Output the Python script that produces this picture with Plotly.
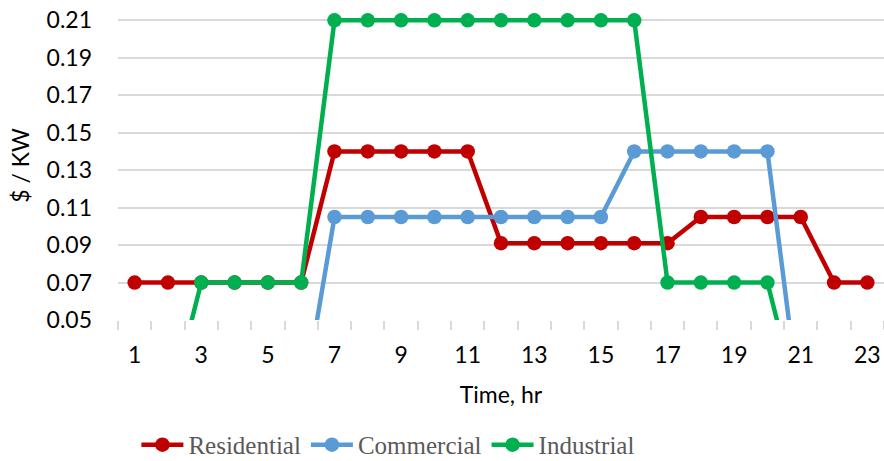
import plotly.graph_objects as go

hours = list(range(1, 24))
residential = [0.07, 0.07, 0.07, 0.07, 0.07, 0.07,
               0.14, 0.14, 0.14, 0.14, 0.14,
               0.091, 0.091, 0.091, 0.091, 0.091, 0.091,
               0.105, 0.105, 0.105, 0.105,
               0.07, 0.07]
commercial = [0, 0, 0, 0, 0, 0,
              0.105, 0.105, 0.105, 0.105, 0.105, 0.105, 0.105, 0.105, 0.105,
              0.14, 0.14, 0.14, 0.14, 0.14,
              0, 0, 0]
industrial = [0, 0,
              0.07, 0.07, 0.07, 0.07,
              0.21, 0.21, 0.21, 0.21, 0.21, 0.21, 0.21, 0.21, 0.21, 0.21,
              0.07, 0.07, 0.07, 0.07,
              0, 0, 0]
x_ticks = list(range(1, 24, 2))
y_ticks = [0.05, 0.07, 0.09, 0.11, 0.13, 0.15, 0.17, 0.19, 0.21]

series = [("Residential", residential, "#C00000"),
          ("Commercial", commercial, "#5B9BD5"),
          ("Industrial", industrial, "#00B050")]

fig = go.Figure()
for name, vals, col in series:
    fig.add_trace(go.Scatter(
        x=hours, y=vals, name=name, mode="lines+markers",
        line=dict(color=col, width=4.5),
        marker=dict(color=col, size=14.5),
        cliponaxis=True,
    ))

axis_font = dict(family="Lato, Carlito, sans-serif", size=23, color="#000000")

fig.update_layout(
    width=884, height=461,
    margin=dict(l=118, r=0, t=10.625, b=141, autoexpand=False),
    paper_bgcolor="white", plot_bgcolor="white",
    showlegend=True,
    legend=dict(orientation="h", x=0.353, xanchor="center", y=-0.33, yanchor="top",
                font=dict(family="Liberation Serif, Times New Roman, serif", size=25, color="#595959"),
                itemwidth=42, tracegroupgap=0, bgcolor="rgba(0,0,0,0)"),
    xaxis=dict(range=[0.5, 23.5], tickmode="array", tickvals=x_ticks,
               ticktext=[str(v) for v in x_ticks], ticks="", showgrid=False,
               zeroline=False, showline=False, tickfont=axis_font, automargin=False,
               ticklabelstandoff=19, ticklabeloverflow="allow",
               minor=dict(tick0=0.5, dtick=1, ticks="outside", ticklen=9,
                          tickcolor="#D9D9D9", tickwidth=1.5, showgrid=False),
               title=dict(text="Time, hr", font=axis_font, standoff=19)),
    yaxis=dict(range=[0.05, 0.215], tickmode="array", tickvals=y_ticks,
               ticktext=["%.2f" % v for v in y_ticks], showgrid=True,
               gridcolor="#D9D9D9", gridwidth=1.5, zeroline=False, showline=False,
               tickfont=axis_font, ticks="", ticklabelstandoff=25, automargin=False,
               ticklabeloverflow="allow",
               title=dict(text="$ / KW", font=axis_font, standoff=10)),
)

fig.write_html("out.html", config={"displayModeBar": False},
               post_script="document.body.style.margin='0';document.body.style.overflow='hidden';")
